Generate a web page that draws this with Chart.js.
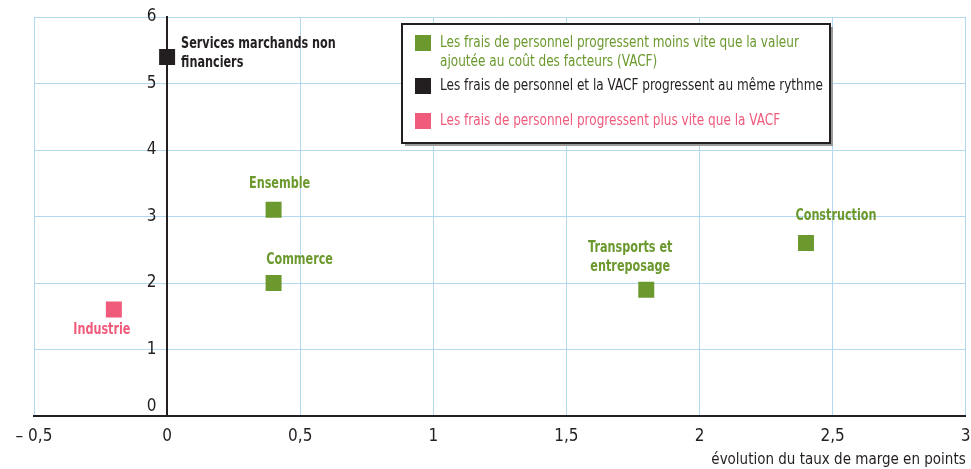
<!DOCTYPE html>
<html lang="fr">
<head>
<meta charset="UTF-8">
<title>Évolution du taux de marge</title>
<script src="https://cdn.jsdelivr.net/npm/chart.js"></script>
<style>
  html, body { margin: 0; background: #fff; overflow: hidden; }
  #wrap { width: 977px; height: 469px; }
</style>
</head>
<body>
<div id="wrap"><canvas id="chart"></canvas></div>
<script>
const FONT = '"DejaVu Sans Condensed", "DejaVu Sans", sans-serif';
const GREEN = '#6b992e';
const BLACK = '#231f20';
const PINK = '#f05a7b';
const GRID = '#b3d8f1';

const greenNames = ['Ensemble', 'Commerce', 'Transports et\nentreposage', 'Construction'];
const greenX = [0.4, 0.4, 1.8, 2.4];
const greenY = [3.1, 2.0, 1.9, 2.6];

const blackNames = ['Services marchands non\nfinanciers'];
const blackX = [0];
const blackY = [5.4];

const pinkNames = ['Industrie'];
const pinkX = [-0.2];
const pinkY = [1.6];

const legendTexts = [
    'Les frais de personnel progressent moins vite que la valeur\najoutée au coût des facteurs (VACF)',
    'Les frais de personnel et la VACF progressent au même rythme',
    'Les frais de personnel progressent plus vite que la VACF'
];
const xTitle = 'évolution du taux de marge en points';

// where each name sits relative to its square
const labelPos = {
    'Ensemble': { dx: 6, dy: -26, align: 'center' },
    'Commerce': { dx: 26, dy: -23, align: 'center' },
    'Transports et\nentreposage': { dx: -16, dy: -42, align: 'center' },
    'Construction': { dx: 30, dy: -27, align: 'center' },
    'Services marchands non\nfinanciers': { dx: 14, dy: -13, align: 'left' },
    'Industrie': { dx: -12, dy: 20, align: 'center' }
};

function toPoints(xs, ys) {
    return xs.map((x, i) => ({ x: x, y: ys[i] }));
}

function makeSet(label, xs, ys, names, color) {
    return {
        label: label,
        data: toPoints(xs, ys),
        names: names,
        backgroundColor: color,
        borderWidth: 0,
        pointStyle: 'rect',
        pointRadius: 11.3,
        pointHoverRadius: 11.3
    };
}

// no narrow font installed, so squeeze the text horizontally
function narrowText(ctx, text, x, y, sx) {
    ctx.save();
    ctx.translate(x, y);
    ctx.scale(sx, 1);
    ctx.fillText(text, 0, 0);
    ctx.restore();
}

const pointLabels = {
    id: 'pointLabels',
    afterDatasetsDraw(chart) {
        const ctx = chart.ctx;
        ctx.save();
        ctx.font = 'bold 16px ' + FONT;
        ctx.textBaseline = 'middle';
        chart.data.datasets.forEach((ds, di) => {
            const meta = chart.getDatasetMeta(di);
            meta.data.forEach((pt, i) => {
                const name = ds.names[i];
                const p = labelPos[name];
                ctx.fillStyle = ds.backgroundColor;
                ctx.textAlign = p.align;
                name.split('\n').forEach((line, k) => {
                    narrowText(ctx, line, pt.x + p.dx, pt.y + p.dy + k * 19, 0.78);
                });
            });
        });
        ctx.restore();
    }
};

const boxLegend = {
    id: 'boxLegend',
    afterDraw(chart) {
        const ctx = chart.ctx;
        const x = 402, y = 24, w = 428, h = 119;
        ctx.save();
        ctx.fillStyle = '#9a9a9a';
        ctx.fillRect(x + 3, y + 3, w, h);
        ctx.fillStyle = '#fff';
        ctx.fillRect(x, y, w, h);
        ctx.strokeStyle = BLACK;
        ctx.lineWidth = 2;
        ctx.strokeRect(x, y, w, h);
        const rows = [43, 86, 121];
        ctx.font = '16px ' + FONT;
        ctx.textBaseline = 'middle';
        ctx.textAlign = 'left';
        chart.data.datasets.forEach((ds, i) => {
            ctx.fillStyle = ds.backgroundColor;
            ctx.fillRect(415, rows[i] - 8, 16, 16);
            legendTexts[i].split('\n').forEach((line, k) => {
                narrowText(ctx, line, 440, rows[i] + k * 19, 0.84);
            });
        });
        ctx.restore();
    }
};

function frNum(v) {
    const s = String(Math.abs(v)).replace('.', ',');
    return v < 0 ? '– ' + s : s;
}

// y labels sit right-aligned on the axis at x = 0; trailing spaces keep a gap,
// and the 0 is lifted above the horizontal axis
function yLabel(v) {
    const s = String(v) + '\u2002\u2009';
    return v === 0 ? [s, ''] : s;
}

new Chart(document.getElementById('chart'), {
    type: 'scatter',
    data: {
        datasets: [
            makeSet('moins vite', greenX, greenY, greenNames, GREEN),
            makeSet('même rythme', blackX, blackY, blackNames, BLACK),
            makeSet('plus vite', pinkX, pinkY, pinkNames, PINK)
        ]
    },
    options: {
        responsive: true,
        maintainAspectRatio: false,
        animation: false,
        events: [],
        layout: { padding: { left: 34, right: 6, top: 17, bottom: 0 } },
        plugins: {
            legend: { display: false },
            tooltip: { enabled: false }
        },
        scales: {
            x: {
                type: 'linear',
                position: 'bottom',
                min: -0.5,
                max: 3,
                ticks: {
                    stepSize: 0.5,
                    padding: 0,
                    color: BLACK,
                    font: { family: FONT, size: 17 },
                    callback: v => frNum(v)
                },
                grid: { color: GRID, lineWidth: 1, drawTicks: true, tickLength: 10, tickColor: 'rgba(0,0,0,0)' },
                border: { color: BLACK, width: 2 },
                title: {
                    display: true,
                    text: xTitle,
                    align: 'end',
                    color: BLACK,
                    font: { family: FONT, size: 15 },
                    padding: { top: 0, bottom: 0 }
                },
                afterFit: s => {
                    s.height = 53;
                    s.paddingLeft = 0;
                    s.paddingRight = 0;
                }
            },
            y: {
                type: 'linear',
                position: { x: 0 },
                min: 0,
                max: 6,
                ticks: {
                    stepSize: 1,
                    padding: 0,
                    color: BLACK,
                    font: { family: FONT, size: 17, lineHeight: 1.1 },
                    callback: v => yLabel(v)
                },
                grid: { color: GRID, lineWidth: 1, drawTicks: false },
                border: { color: BLACK, width: 2 },
                afterFit: s => {
                    s.width = 0;
                    s.paddingLeft = 0;
                    s.paddingRight = 0;
                }
            }
        }
    },
    plugins: [pointLabels, boxLegend]
});
</script>
</body>
</html>
